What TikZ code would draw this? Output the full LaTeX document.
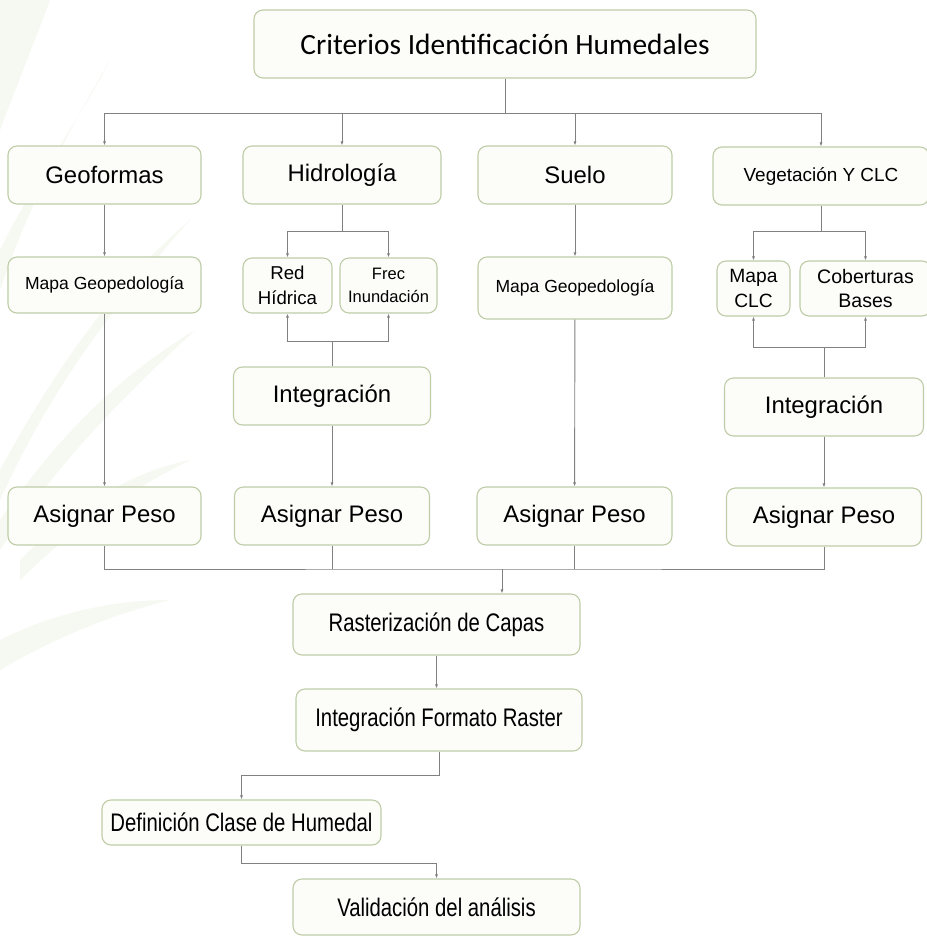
\documentclass[tikz,border=0pt]{standalone}
\usepackage{fontspec}
\setmainfont{Liberation Sans}
\newfontfamily\titlefont{Carlito}
\newfontfamily\narrowfont[FakeStretch=0.8]{Liberation Sans}
\usepackage{tikz}
\usetikzlibrary{arrows.meta,positioning,calc}
\definecolor{boxline}{RGB}{190,204,168}
\definecolor{boxfill}{RGB}{252,253,249}
\definecolor{linkgray}{RGB}{128,128,128}
\definecolor{leaf}{RGB}{246,249,241}

\begin{document}
\begin{tikzpicture}[x=1bp,y=-1bp,>={Latex[length=4bp,width=3bp]},
  every node/.style={draw=boxline,fill=boxfill,line width=1.1bp,rounded corners=9bp,inner sep=2bp,align=center},
  wh/.style 2 args={minimum width=#1bp,minimum height=#2bp},
  big/.style={font=\fontsize{24}{28}\selectfont},
  mid/.style={font=\fontsize{17.6}{25}\selectfont},
  low/.style={font=\narrowfont\fontsize{25.5}{30}\selectfont},
  link/.style={draw=linkgray,line width=0.9bp}]
  \fill[white] (0,0) rectangle (927,937);
  \useasboundingbox (0,0) rectangle (927,937);
  \fill[leaf] (0,0) -- (50,0) .. controls (35,40) and (15,90) .. (0,130) -- cycle;
  \fill[leaf] (0,250) .. controls (40,170) and (80,120) .. (110,60) .. controls (70,130) and (30,200) .. (0,290) -- cycle;
  \fill[leaf] (0,470) .. controls (60,360) and (120,280) .. (190,220) .. controls (110,310) and (50,390) .. (0,500) -- cycle;
  \fill[leaf] (0,520) .. controls (70,420) and (130,370) .. (195,330) .. controls (120,400) and (60,460) .. (0,550) -- cycle;
  \fill[leaf] (20,560) .. controls (80,500) and (140,470) .. (190,460) .. controls (130,490) and (70,530) .. (20,580) -- cycle;
  \fill[leaf] (0,640) .. controls (60,610) and (120,600) .. (170,600) .. controls (110,615) and (50,640) .. (0,670) -- cycle;

  \node[wh={502}{68},font=\titlefont\fontsize{29.5}{34}\selectfont] (top) at (505,44) {Criterios Identificación Humedales};
  \node[big,wh={193}{58}] (geo) at (104.5,175) {Geoformas};
  \node[big,wh={198}{58}] (hid) at (342,175) {Hidrología};
  \node[big,wh={194}{58}] (sue) at (575,175) {Suelo};
  \node[wh={216}{58},font=\fontsize{19}{24}\selectfont] (veg) at (821,176) {Vegetación Y CLC};
  \node[mid,wh={193}{56}] (mg1) at (104.5,285) {Mapa Geopedología};
  \node[wh={89}{55},font=\fontsize{18.7}{25}\selectfont] (red) at (287.5,285.5) {Red\\Hídrica};
  \node[wh={97}{55},font=\fontsize{16.6}{23}\selectfont] (frec) at (388.5,285.5) {Frec\\Inundación};
  \node[mid,wh={194}{62}] (mg2) at (575,288) {Mapa Geopedología};
  \node[wh={73}{55},font=\fontsize{19.3}{25}\selectfont] (clc) at (753.5,288.5) {Mapa\\CLC};
  \node[wh={131}{55},font=\fontsize{19.6}{25}\selectfont] (cob) at (865.5,288.5) {Coberturas\\Bases};
  \node[big,wh={197}{58}] (int1) at (332,396) {Integración};
  \node[big,wh={199}{58}] (int2) at (824,407) {Integración};
  \node[big,wh={193}{58}] (ap1) at (104.5,516) {Asignar Peso};
  \node[big,wh={195}{58}] (ap2) at (332,516) {Asignar Peso};
  \node[big,wh={195}{58}] (ap3) at (574.5,516) {Asignar Peso};
  \node[big,wh={195}{58}] (ap4) at (824,517) {Asignar Peso};
  \node[low,wh={287}{61}] (ras) at (436.5,624.5) {Rasterización de Capas};
  \node[low,wh={286}{62}] (ifr) at (439,720) {Integración Formato Raster};
  \node[low,wh={279}{45}] (def) at (241.5,822.5) {Definición Clase de Humedal};
  \node[low,wh={287}{56}] (val) at (436.5,907) {Validación del análisis};

  \coordinate (b1) at (505,113);
  \coordinate (f1) at (342,231);
  \coordinate (f2) at (332,341);
  \coordinate (f3) at (821,231);
  \coordinate (f4) at (824,347);
  \coordinate (b2) at (502,569);
  \draw[link] (top) -- (b1);
  \draw[link,->] (b1) -| (geo); \draw[link,->] (b1) -| (hid);
  \draw[link,->] (b1) -| (sue); \draw[link,->] (b1) -| (veg);
  \draw[link,->] (geo) -- (mg1); \draw[link,->] (mg1) -- (ap1);
  \draw[link] (hid) -- (f1);
  \draw[link,->] (f1) -| (red); \draw[link,->] (f1) -| (frec);
  \draw[link] (int1) -- (f2);
  \draw[link,->] (f2) -| (red); \draw[link,->] (f2) -| (frec);
  \draw[link,->] (int1) -- (ap2);
  \draw[link,->] (sue) -- (mg2); \draw[link,->] (mg2) -- (ap3);
  \draw[link] (veg) -- (f3);
  \draw[link,->] (f3) -| (clc); \draw[link,->] (f3) -| (cob);
  \draw[link] (int2) -- (f4);
  \draw[link,->] (f4) -| (clc); \draw[link,->] (f4) -| (cob);
  \draw[link,->] (int2) -- (ap4);
  \draw[link] (ap1) |- (b2) -| (ap4);
  \draw[link] (ap2) -- (ap2 |- b2); \draw[link] (ap3) -- (ap3 |- b2);
  \draw[link,->] (b2) -- (b2 |- ras.north);
  \draw[link,->] (ras) -- (ras |- ifr.north);
  \draw[link,->] (ifr.south) -- ++(0,24) -| (def);
  \draw[link,->] (def.south) -- ++(0,18) -| (val);
\end{tikzpicture}
\end{document}
